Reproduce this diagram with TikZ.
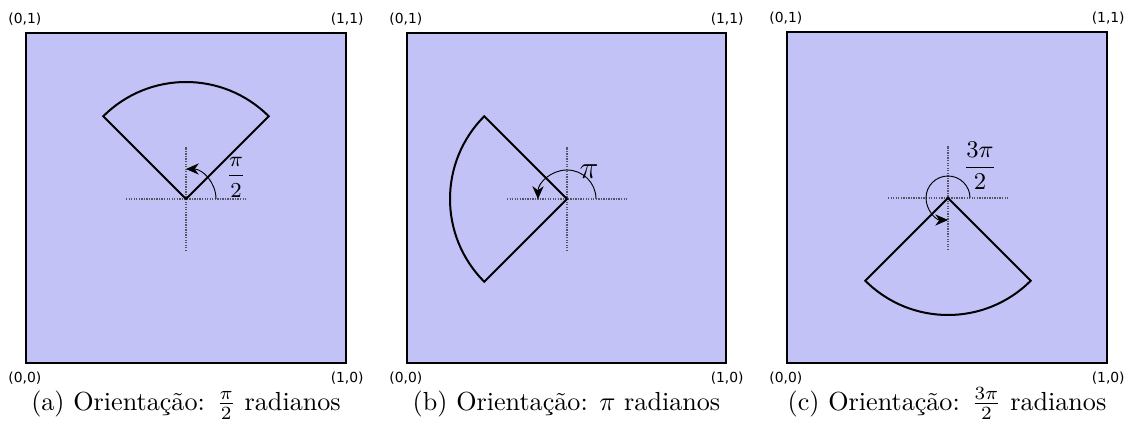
\documentclass[tikz,border=0pt]{standalone}
\usepackage{fontspec}
\newfontfamily\cornerfont{DejaVu Sans}
\usetikzlibrary{arrows.meta}
\definecolor{panelfill}{RGB}{194,194,246}
\definecolor{crossgray}{RGB}{85,85,95}
\tikzset{
  panelbox/.style={draw=black, line width=0.9pt, fill=panelfill},
  sectorline/.style={draw=black, line width=0.75pt, line join=miter},
  crossline/.style={draw=crossgray, line width=0.55pt, dash pattern=on 0.5pt off 0.45pt},
  anglearc/.style={draw=black, line width=0.35pt, -{Stealth[length=4.8pt,width=4.2pt]}},
  cornerlabel/.style={font=\cornerfont\fontsize{5.2}{6}\selectfont, inner sep=0pt},
  captionlabel/.style={font=\fontsize{9.8}{11}\selectfont, inner sep=0pt, anchor=base},
}
\begin{document}
\begin{tikzpicture}[x=0.375pt,y=0.375pt]
\useasboundingbox (0,0) rectangle (1128,433);
% ---------- panel (a)
\node[panelbox, minimum width=320*0.375pt, minimum height=330*0.375pt, inner sep=0pt] (pa) at (186,235) {};
\node[cornerlabel] (pa01) at (pa.north west) [yshift=4.6pt] {(0,1)};
\node[cornerlabel] (pa11) at (pa.north east) [yshift=4.6pt] {(1,1)};
\node[cornerlabel] (pa00) at (pa.south west) [yshift=-5.1pt] {(0,0)};
\node[cornerlabel] (pa10) at (pa.south east) [yshift=-5.1pt] {(1,0)};
\coordinate (va) at (186,234);
\coordinate (vaL) at (126,234); \coordinate (vaR) at (246,234);
\coordinate (vaB) at (186,182); \coordinate (vaT) at (186,286);
\draw[crossline] (vaL) -- (vaR);
\draw[crossline] (vaB) -- (vaT);
\draw[sectorline] (va) -- ++(45:117) arc[start angle=45, end angle=135, radius=117] -- cycle;
\draw[anglearc] (va) ++(0:30) arc[start angle=0, end angle=90, radius=30];
\node[font=\fontsize{8}{9}\selectfont, inner sep=0pt] (la) at (236,256) {$\displaystyle\frac{\pi}{2}$};
\node[captionlabel] (ca) at (186,23) {(a) Orientação: $\frac{\pi}{2}$ radianos};
% ---------- panel (b)
\node[panelbox, minimum width=319*0.375pt, minimum height=330*0.375pt, inner sep=0pt] (pb) at (566.5,235) {};
\node[cornerlabel] (pb01) at (pb.north west) [yshift=4.6pt] {(0,1)};
\node[cornerlabel] (pb11) at (pb.north east) [yshift=4.6pt] {(1,1)};
\node[cornerlabel] (pb00) at (pb.south west) [yshift=-5.1pt] {(0,0)};
\node[cornerlabel] (pb10) at (pb.south east) [yshift=-5.1pt] {(1,0)};
\coordinate (vb) at (567,234);
\coordinate (vbL) at (507,234); \coordinate (vbR) at (627,234);
\coordinate (vbB) at (567,182); \coordinate (vbT) at (567,286);
\draw[crossline] (vbL) -- (vbR);
\draw[crossline] (vbB) -- (vbT);
\draw[sectorline] (vb) -- ++(135:117) arc[start angle=135, end angle=225, radius=117] -- cycle;
\draw[anglearc] (vb) ++(0:29) arc[start angle=0, end angle=180, radius=29];
\node[font=\fontsize{12}{13}\selectfont, inner sep=0pt] (lb) at (589,261) {$\pi$};
\node[captionlabel] (cb) at (566.5,23) {(b) Orientação: $\pi$ radianos};
% ---------- panel (c)
\node[panelbox, minimum width=320*0.375pt, minimum height=331*0.375pt, inner sep=0pt] (pc) at (947,235.5) {};
\node[cornerlabel] (pc01) at (pc.north west) [yshift=4.6pt] {(0,1)};
\node[cornerlabel] (pc11) at (pc.north east) [yshift=4.6pt] {(1,1)};
\node[cornerlabel] (pc00) at (pc.south west) [yshift=-5.1pt] {(0,0)};
\node[cornerlabel] (pc10) at (pc.south east) [yshift=-5.1pt] {(1,0)};
\coordinate (vc) at (948,235);
\coordinate (vcL) at (888,235); \coordinate (vcR) at (1008,235);
\coordinate (vcB) at (948,183); \coordinate (vcT) at (948,287);
\draw[crossline] (vcL) -- (vcR);
\draw[crossline] (vcB) -- (vcT);
\draw[sectorline] (vc) -- ++(225:117) arc[start angle=225, end angle=315, radius=117] -- cycle;
\draw[anglearc] (vc) ++(0:22) arc[start angle=0, end angle=270, radius=22];
\node[font=\fontsize{9}{10}\selectfont, inner sep=0pt] (lc) at (980,267) {$\displaystyle\frac{3\pi}{2}$};
\node[captionlabel] (cc) at (947,23) {(c) Orientação: $\frac{3\pi}{2}$ radianos};
\end{tikzpicture}
\end{document}
